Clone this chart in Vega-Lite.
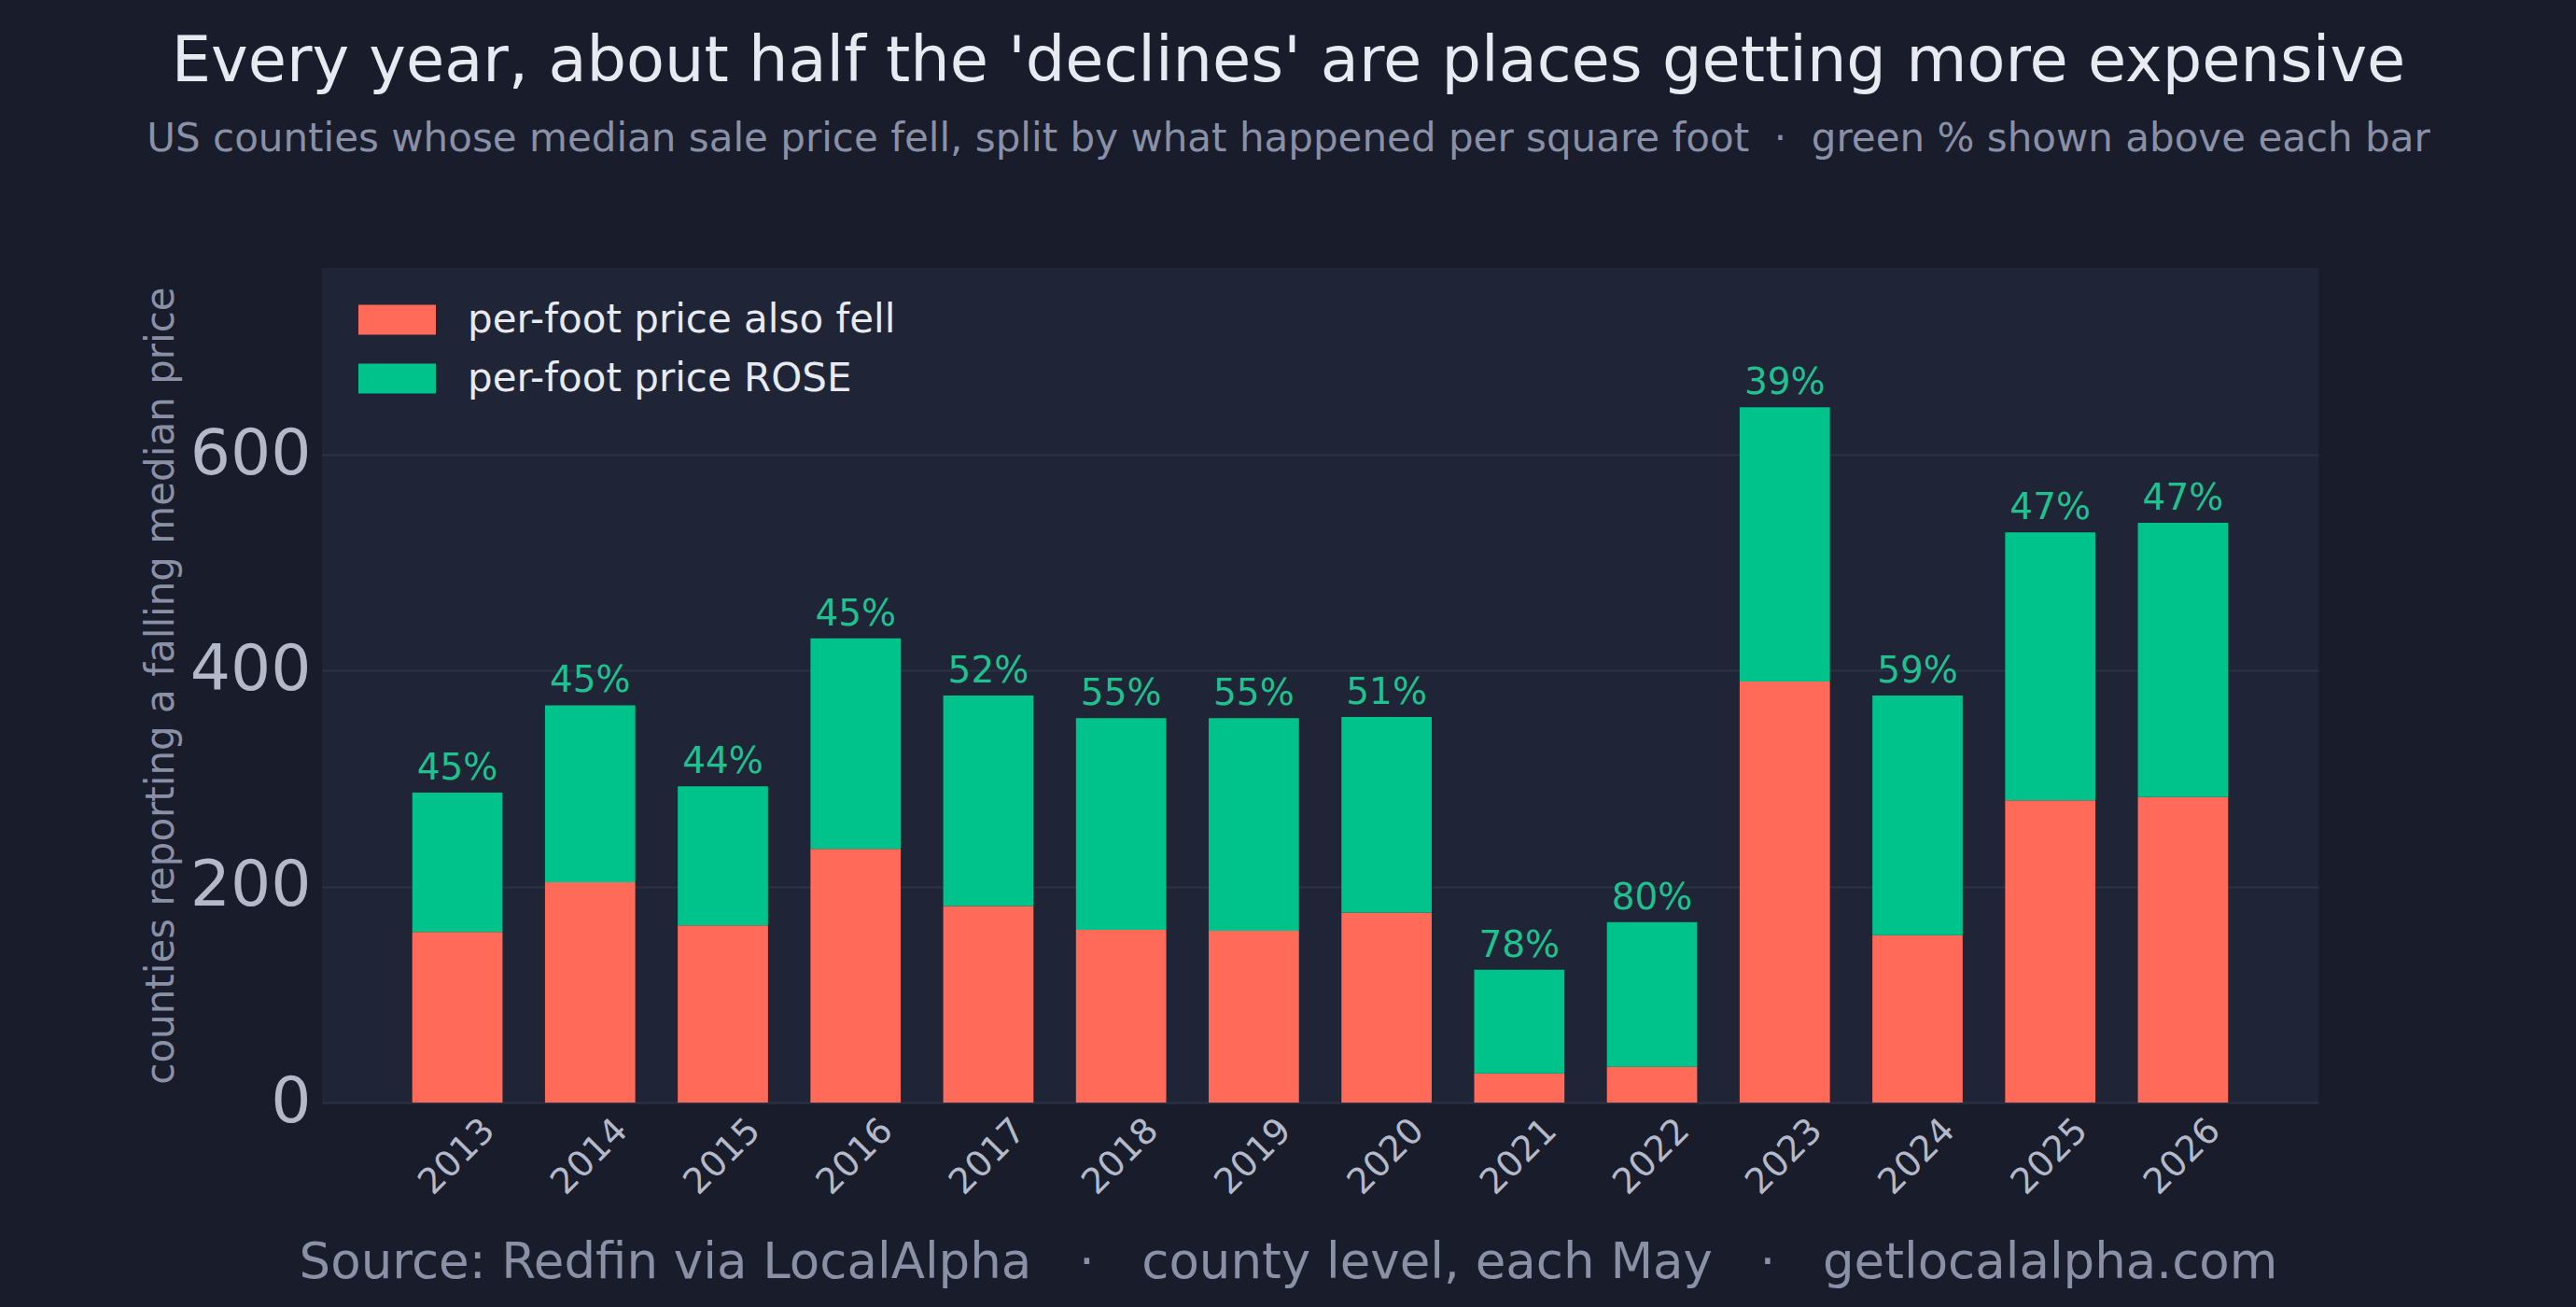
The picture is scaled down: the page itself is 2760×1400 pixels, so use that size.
{
  "$schema": "https://vega.github.io/schema/vega-lite/v6.json",
  "width": 2139,
  "height": 894,
  "autosize": {"type": "none"},
  "padding": {"left": 345, "top": 287, "right": 276, "bottom": 219},
  "background": "#181c2b",
  "config": {
    "view": {"fill": "#1f2437", "stroke": null},
    "font": "DejaVu Sans"
  },
  "title": {
    "text": "Every year, about half the 'declines' are places getting more expensive",
    "subtitle": "US counties whose median sale price fell, split by what happened per square foot \u00a0·\u00a0 green % shown above each bar",
    "fontSize": 67,
    "fontWeight": "normal",
    "subtitleFontSize": 42,
    "color": "#e8eaf2",
    "subtitleColor": "#8a90a6",
    "anchor": "middle",
    "frame": "group",
    "dx": -34,
    "offset": 116,
    "subtitlePadding": 28
  },
  "data": {
    "values": [
      {"year": "2013", "fell": 158, "rose": 129, "pct": "45%"},
      {"year": "2014", "fell": 204, "rose": 164, "pct": "45%"},
      {"year": "2015", "fell": 164, "rose": 129, "pct": "44%"},
      {"year": "2016", "fell": 235, "rose": 195, "pct": "45%"},
      {"year": "2017", "fell": 182, "rose": 195, "pct": "52%"},
      {"year": "2018", "fell": 160, "rose": 196, "pct": "55%"},
      {"year": "2019", "fell": 159, "rose": 197, "pct": "55%"},
      {"year": "2020", "fell": 176, "rose": 181, "pct": "51%"},
      {"year": "2021", "fell": 27, "rose": 96, "pct": "78%"},
      {"year": "2022", "fell": 33, "rose": 134, "pct": "80%"},
      {"year": "2023", "fell": 390, "rose": 254, "pct": "39%"},
      {"year": "2024", "fell": 155, "rose": 222, "pct": "59%"},
      {"year": "2025", "fell": 280, "rose": 248, "pct": "47%"},
      {"year": "2026", "fell": 283, "rose": 254, "pct": "47%"}
    ]
  },
  "transform": [
    {"fold": ["fell", "rose"], "as": ["part", "count"]}
  ],
  "encoding": {
    "x": {
      "field": "year",
      "type": "nominal",
      "scale": {"paddingInner": 0.32, "paddingOuter": 0.68},
      "axis": {
        "title": "Source: Redfin via LocalAlpha \u00a0\u00a0·\u00a0\u00a0 county level, each May \u00a0\u00a0·\u00a0\u00a0 getlocalalpha.com",
        "titleFontSize": 53,
        "titleFontWeight": "normal",
        "titleColor": "#8a90a6",
        "titleX": 1035,
        "titleY": 171,
        "titleAlign": "center",
        "titleBaseline": "middle",
        "labelAngle": -45,
        "labelAlign": "center",
        "labelBaseline": "middle",
        "labelFontSize": 38,
        "labelColor": "#b4b9c9",
        "labelPadding": 58,
        "ticks": false,
        "tickSize": 0,
        "domain": false,
        "grid": false
      }
    }
  },
  "layer": [
    {
      "mark": {"type": "bar"},
      "encoding": {
        "y": {
          "field": "count",
          "type": "quantitative",
          "stack": "zero",
          "scale": {"domain": [0, 773], "nice": false},
          "axis": {
            "values": [0, 200, 400, 600],
            "title": "counties reporting a falling median price",
            "titleFontSize": 42,
            "titleFontWeight": "normal",
            "titleColor": "#8a90a6",
            "titleX": -173,
            "titleY": 447,
            "titleAngle": 270,
            "titleAlign": "center",
            "titleBaseline": "middle",
            "labelFontSize": 68,
            "labelColor": "#b4b9c9",
            "labelPadding": 12,
            "ticks": false,
            "tickSize": 0,
            "domain": false,
            "grid": true,
            "gridColor": "#2b3244",
            "gridWidth": 2
          }
        },
        "color": {
          "field": "part",
          "type": "nominal",
          "scale": {"domain": ["fell", "rose"], "range": ["#ff6b58", "#00c38c"]},
          "legend": {
            "title": null,
            "orient": "none",
            "legendX": 39,
            "legendY": 14,
            "labelExpr": "datum.label == 'fell' ? 'per-foot price also fell' : 'per-foot price ROSE'",
            "labelFontSize": 42,
            "labelLimit": 0,
            "labelColor": "#e8eaf2",
            "symbolType": "M-1,-0.385H1V0.385H-1Z",
            "symbolSize": 6889,
            "symbolStrokeWidth": 0,
            "symbolOpacity": 1,
            "labelOffset": 34,
            "rowPadding": -20,
            "padding": 0
          }
        },
        "order": {"field": "part", "sort": "ascending"}
      }
    },
    {
      "transform": [
        {"aggregate": [{"op": "sum", "field": "count", "as": "total"}], "groupby": ["year", "pct"]}
      ],
      "mark": {"type": "text", "baseline": "alphabetic", "dy": -14, "fontSize": 39, "color": "#1fc28f"},
      "encoding": {
        "y": {"field": "total", "type": "quantitative", "title": "counties reporting a falling median price"},
        "text": {"field": "pct", "type": "nominal"}
      }
    }
  ]
}
